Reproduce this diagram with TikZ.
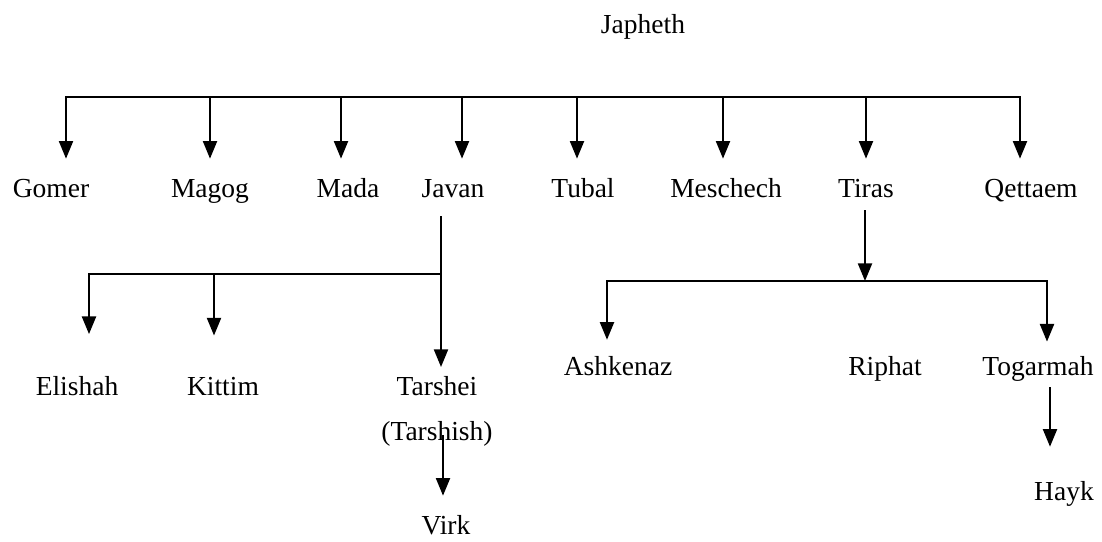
\documentclass[tikz,border=0pt]{standalone}
\usepackage{fontspec}
\setmainfont{Liberation Serif}
\usetikzlibrary{arrows.meta}
\begin{document}
\begin{tikzpicture}[x=0.709pt,y=-0.709pt,
  person/.style={font=\fontsize{19.5}{23}\selectfont, inner sep=0pt, anchor=base, text height=13pt, text depth=0pt},
  twoline/.style={font=\fontsize{19.5}{32}\selectfont, inner sep=0pt, anchor=north, align=center},
  link/.style={line width=1.3pt, line cap=rect},
  arr/.style={line width=1.3pt, -{Triangle[width=10pt,length=12.5pt]}}]
\useasboundingbox (0,0) rectangle (1102,541);
% names
\node[person] (japheth) at (643,33) {Japheth};
\node[person] (gomer) at (51,197) {Gomer};
\node[person] (magog) at (210,197) {Magog};
\node[person] (mada) at (348,197) {Mada};
\node[person] (javan) at (453,197) {Javan};
\node[person] (tubal) at (583,197) {Tubal};
\node[person] (meschech) at (726,197) {Meschech};
\node[person] (tiras) at (866,197) {Tiras};
\node[person] (qettaem) at (1031,197) {Qettaem};
\node[person] (elishah) at (77,395) {Elishah};
\node[person] (kittim) at (223,395) {Kittim};
\node[twoline] (tarshei) at (437,376) {Tarshei\\(Tarshish)};
\node[person] (virk) at (446,534) {Virk};
\node[person] (ashkenaz) at (618,375) {Ashkenaz};
\node[person] (riphat) at (885,375) {Riphat};
\node[person] (togarmah) at (1038,375) {Togarmah};
\node[person] (hayk) at (1064,500) {Hayk};
% junction points
\coordinate (b1) at (66,97);
\coordinate (b2) at (210,97);
\coordinate (b3) at (341,97);
\coordinate (b4) at (462,97);
\coordinate (b5) at (577,97);
\coordinate (b6) at (723,97);
\coordinate (b7) at (866,97);
\coordinate (b8) at (1020,97);
\coordinate (jmid) at (441,274);
\coordinate (jl) at (89,274);
\coordinate (jk) at (214,274);
\coordinate (tmid) at (865,281);
\coordinate (tl) at (607,281);
\coordinate (tr) at (1047,281);
% top bar
\draw[link] (b1) -- (b8);
\draw[arr, shorten >=14pt] (b1) -- (b1 |- gomer.north);
\draw[arr, shorten >=14pt] (b2) -- (b2 |- magog.north);
\draw[arr, shorten >=14pt] (b3) -- (b3 |- mada.north);
\draw[arr, shorten >=14pt] (b4) -- (b4 |- javan.north);
\draw[arr, shorten >=14pt] (b5) -- (b5 |- tubal.north);
\draw[arr, shorten >=14pt] (b6) -- (b6 |- meschech.north);
\draw[arr, shorten >=14pt] (b7) -- (b7 |- tiras.north);
\draw[arr, shorten >=14pt] (b8) -- (b8 |- qettaem.north);
% Javan's sons
\draw[link, shorten <=14pt] (jmid |- javan.south) -- (jmid);
\draw[link] (jmid) -- (jl);
\draw[arr, shorten >=30pt] (jl) -- (jl |- elishah.north);
\draw[arr, shorten >=29pt] (jk) -- (jk |- kittim.north);
\draw[arr, shorten >=6.4pt] (jmid) -- (jmid |- tarshei.north);
\coordinate (vx) at (443,0);
\draw[arr, shorten <=-8pt, shorten >=14pt] (vx |- tarshei.south) -- (vx |- virk.north);
% Tiras's sons
\draw[arr, shorten <=9.2pt] (tmid |- tiras.south) -- (tmid);
\draw[link] (tl) -- (tr);
\draw[arr, shorten >=11.8pt] (tl) -- (tl |- ashkenaz.north);
\draw[arr, shorten >=10.5pt] (tr) -- (tr |- togarmah.north);
\coordinate (hx) at (1050,0);
\draw[arr, shorten <=8.5pt, shorten >=24.6pt] (hx |- togarmah.south) -- (hx |- hayk.north);
\end{tikzpicture}
\end{document}
